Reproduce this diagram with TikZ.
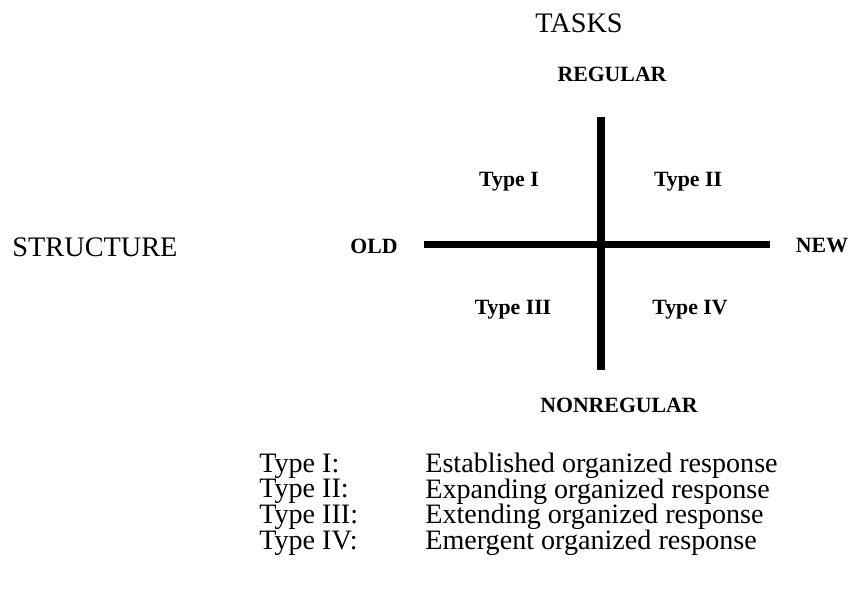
\documentclass[tikz,border=0pt]{standalone}
\usepackage{fontspec}
\setmainfont{Liberation Serif}
\newcommand\legendfont{\fontsize{16}{14.6}\selectfont\lineskiplimit=-20pt\relax}
\tikzset{
	big/.style={inner sep=0pt,font=\fontsize{16.1}{18}\selectfont},
	legend/.style={inner sep=0pt,anchor=north west,align=left,font=\legendfont},
	small/.style={inner sep=0pt,font=\fontsize{12.4}{15}\selectfont\bfseries},
	axis/.style={line width=4pt}
}
\begin{document}
\begin{tikzpicture}[x=0.02cm,y=-0.02cm]
	\useasboundingbox (0,0) rectangle (851,592);
	\coordinate (top) at (601,117); \coordinate (bottom) at (601,370);
	\coordinate (left) at (424,244.5); \coordinate (right) at (770,244.5);
	\draw[axis] (left) -- (right);
	\draw[axis] (top) -- (bottom);
	\node[big] (tasks) at (579,23) {TASKS};
	\node[big] (structure) at (95,247) {STRUCTURE};
	\node[small] (regular) at (612,74) {REGULAR};
	\node[small] (nonregular) at (619,405) {NONREGULAR};
	\node[small] (old) at (374,246) {OLD};
	\node[small] (new) at (822,246) {NEW};
	\node[small] (t1) at (509,182) {Type I};
	\node[small] (t2) at (688,182) {Type II};
	\node[small] (t3) at (513,310) {Type III};
	\node[small] (t4) at (690,310) {Type IV};
	% legend
	\node[legend] (types) at (259,453.5) {Type I:\\Type II:\\Type III:\\Type IV:};
	\node[legend] (responses) at (425,452.5) {Established organized response\\
		Expanding organized response\\Extending organized response\\
		Emergent organized response};
\end{tikzpicture}
\end{document}
